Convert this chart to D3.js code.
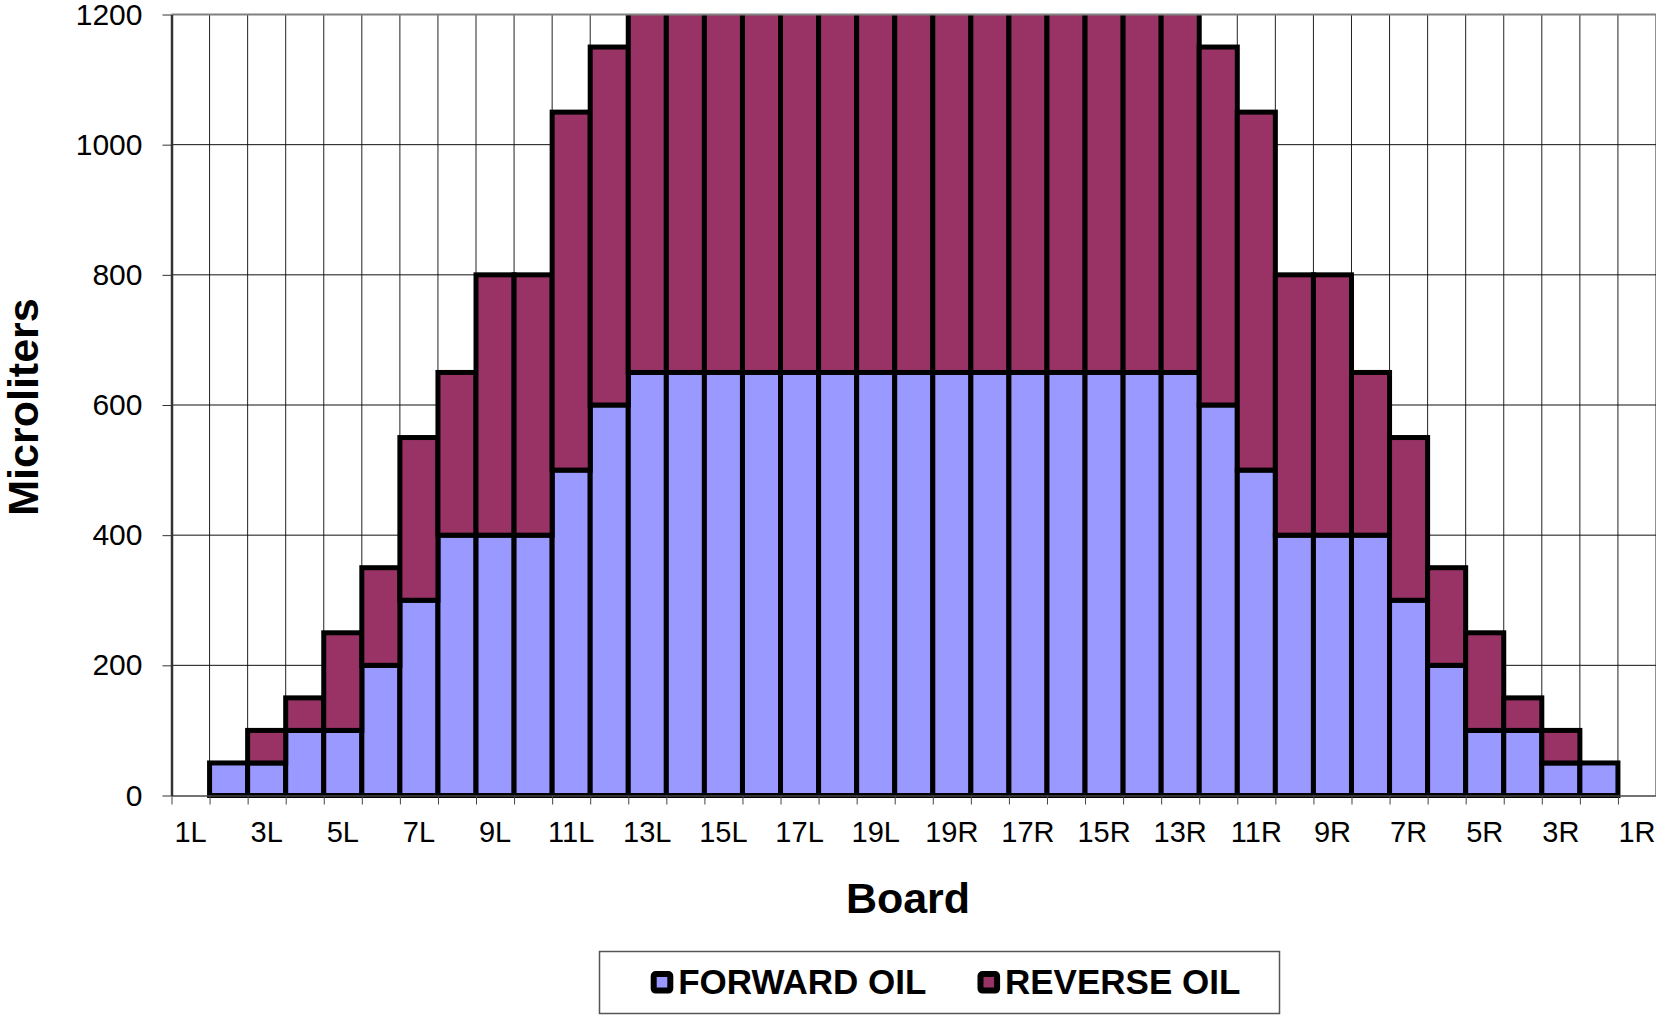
<!DOCTYPE html>
<html>
<head>
<meta charset="utf-8">
<script src="https://cdn.jsdelivr.net/npm/d3@7"></script>
<style>
  body { margin: 0; background: #fff; }
  svg text { font-family: "Liberation Sans", Arial, sans-serif; fill: #000; }
</style>
</head>
<body>
<div id="chart"></div>
<script>
// boards across the lane, left gutter to right gutter
let boards = ['1L','2L','3L','4L','5L','6L','7L','8L','9L','10L','11L','12L','13L','14L','15L','16L','17L','18L','19L',
              '20',
              '19R','18R','17R','16R','15R','14R','13R','12R','11R','10R','9R','8R','7R','6R','5R','4R','3R','2R','1R'];

let forwardOil = [0, 50, 50, 100, 100, 200, 300, 400, 400, 400, 500, 600,
                  650, 650, 650, 650, 650, 650, 650, 650, 650, 650, 650, 650, 650, 650, 650,
                  600, 500, 400, 400, 400, 300, 200, 100, 100, 50, 50, 0];

let reverseOil = [0, 0, 50, 50, 150, 150, 250, 250, 400, 400, 550, 550,
                  650, 650, 650, 650, 650, 650, 650, 650, 650, 650, 650, 650, 650, 650, 650,
                  550, 550, 400, 400, 250, 250, 150, 150, 50, 50, 0, 0];

let yTicks = [0, 200, 400, 600, 800, 1000, 1200];
let seriesNames = ['FORWARD OIL', 'REVERSE OIL'];
let seriesColors = ['#9999FF', '#993366'];

let chart_width  = 1656;
let chart_height = 1015;
let plotLeft = 171.5, plotRight = 1656, plotTop = 14.5, plotBottom = 795.5;

let svg = d3.select('#chart')
            .append('svg')
            .attr('width', chart_width)
            .attr('height', chart_height);

let x_scale = d3.scaleBand()
            .domain(boards)
            .range([plotLeft, plotRight])
            .padding(0);

// boundaries between boards, for grid lines and ticks
let edge_scale = d3.scaleLinear()
            .domain([0, boards.length])
            .range([plotLeft, plotRight]);

let y_scale = d3.scaleLinear()
            .domain([0, 1200])
            .range([plotBottom, plotTop]);

//grid
svg.append('g')
  .selectAll('line')
  .data(d3.range(1, boards.length + 1))
  .enter()
  .append('line')
  .attr('x1', d => edge_scale(d))
  .attr('x2', d => edge_scale(d))
  .attr('y1', plotTop)
  .attr('y2', plotBottom)
  .attr('stroke', '#222')
  .attr('stroke-width', 1);

svg.append('g')
  .selectAll('line')
  .data(yTicks.filter(d => d > 0 && d < 1200))
  .enter()
  .append('line')
  .attr('x1', plotLeft)
  .attr('x2', plotRight)
  .attr('y1', d => y_scale(d))
  .attr('y2', d => y_scale(d))
  .attr('stroke', '#111')
  .attr('stroke-width', 1);

//stacked bars
let rows = boards.map((b, i) => ({board: b, forward: forwardOil[i], reverse: reverseOil[i]}));
let stack = d3.stack().keys(['forward', 'reverse'])(rows);

svg.append('clipPath')
  .attr('id', 'plot-clip')
  .append('rect')
  .attr('x', plotLeft - 5)
  .attr('y', plotTop)
  .attr('width', plotRight - plotLeft + 10)
  .attr('height', plotBottom - plotTop + 6);

let bars = svg.append('g').attr('clip-path', 'url(#plot-clip)');

stack.forEach((layer, k) => {
  bars.append('g')
    .selectAll('rect')
    .data(layer.filter(d => d[1] - d[0] > 0))
    .enter()
    .append('rect')
    .attr('x', d => x_scale(d.data.board))
    .attr('width', x_scale.bandwidth())
    .attr('y', d => y_scale(d[1]))
    .attr('height', d => y_scale(d[0]) - y_scale(d[1]))
    .attr('fill', seriesColors[k])
    .attr('stroke', '#000')
    .attr('stroke-width', 5);
});

// plot area top border
svg.append('line')
  .attr('x1', plotLeft)
  .attr('x2', plotRight)
  .attr('y1', plotTop)
  .attr('y2', plotTop)
  .attr('stroke', '#808080')
  .attr('stroke-width', 2);

//axis
let x_ticks = d3.axisBottom(edge_scale)
            .tickValues(d3.range(0, boards.length + 1))
            .tickFormat('')
            .tickSize(9)
            .tickSizeOuter(0);

let xt = svg.append('g')
  .attr('transform', 'translate(0,' + plotBottom + ')')
  .call(x_ticks);
xt.select('.domain').attr('stroke', '#444').attr('stroke-width', 1.5);
xt.selectAll('.tick line').attr('stroke', '#444');

let x_axis = d3.axisBottom(x_scale)
            .tickFormat((d, i) => i % 2 === 0 ? d : '')
            .tickSize(0)
            .tickPadding(26);

let xa = svg.append('g')
  .attr('transform', 'translate(0,' + plotBottom + ')')
  .call(x_axis);
xa.select('.domain').remove();
xa.selectAll('text').style('font-size', '29px');

let y_axis = d3.axisLeft(y_scale)
            .tickValues(yTicks)
            .tickFormat(d3.format('d'))
            .tickSize(9)
            .tickSizeOuter(0)
            .tickPadding(20);

let ya = svg.append('g')
  .attr('transform', 'translate(' + plotLeft + ', 0)')
  .call(y_axis);
ya.select('.domain').attr('stroke', '#333').attr('stroke-width', 2.5);
ya.selectAll('.tick line').attr('stroke', '#333');
ya.selectAll('text').style('font-size', '30px');

//titles
svg.append('text')
  .attr('x', 908)
  .attr('y', 913)
  .attr('text-anchor', 'middle')
  .style('font-size', '43px')
  .style('font-weight', 'bold')
  .text('Board');

svg.append('text')
  .attr('transform', 'translate(38,407) rotate(-90)')
  .attr('text-anchor', 'middle')
  .style('font-size', '43px')
  .style('font-weight', 'bold')
  .text('Microliters');

//legend
let legend = svg.append('g');
legend.append('rect')
  .attr('x', 599.5)
  .attr('y', 951.5)
  .attr('width', 680)
  .attr('height', 62)
  .attr('fill', '#fff')
  .attr('stroke', '#555')
  .attr('stroke-width', 1.5);

let legendX = [653.7, 980.5];
seriesNames.forEach((name, k) => {
  legend.append('rect')
    .attr('x', legendX[k])
    .attr('y', 974)
    .attr('width', 16.6)
    .attr('height', 16.6)
    .attr('rx', 2)
    .attr('fill', seriesColors[k])
    .attr('stroke', '#000')
    .attr('stroke-width', 6);
  legend.append('text')
    .attr('x', legendX[k] + 24.5)
    .attr('y', 994)
    .style('font-size', '35px')
    .style('font-weight', 'bold')
    .text(name);
});
</script>
</body>
</html>
